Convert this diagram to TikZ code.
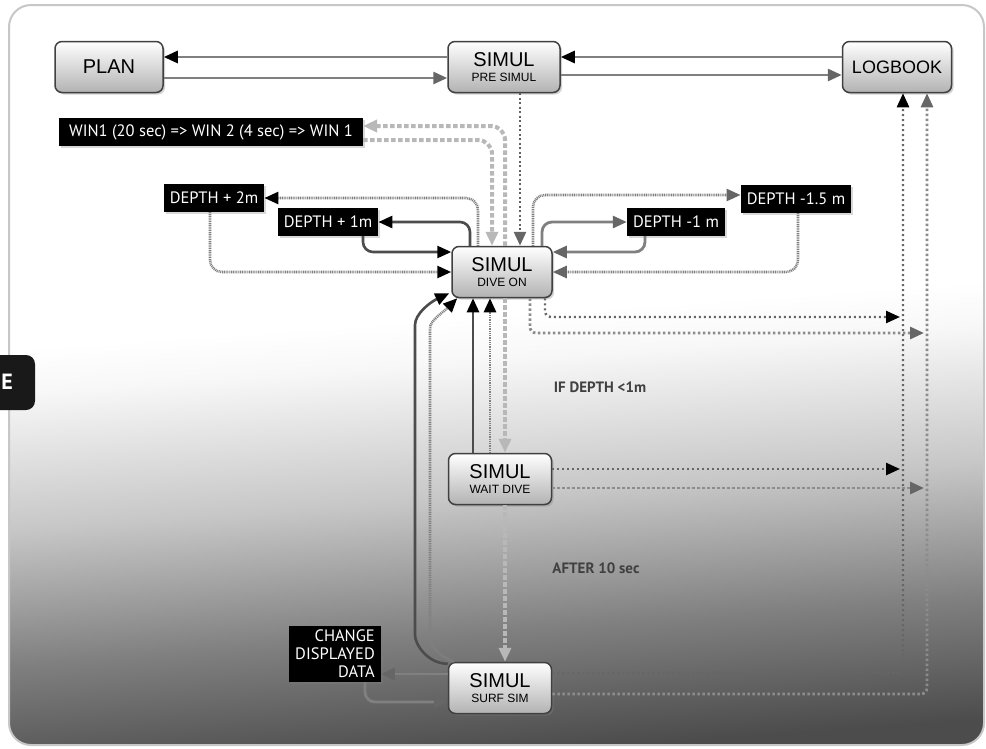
\documentclass[tikz,border=0pt]{standalone}
\usepackage{fontspec}
\setmainfont{Liberation Sans}
\newfontfamily\labelfont{PT Sans}
\usetikzlibrary{arrows.meta,shadows}

\newcommand*{\xlogA}{903}
\newcommand*{\xlogB}{927}
\newcommand*{\boxsub}[1]{{\fontsize{12}{12}\selectfont #1}}

\pgfdeclareverticalshading{bgshade}{100bp}{color(0bp)=(black!70); color(25bp)=(black!70); color(33bp)=(black!50); color(42bp)=(black!22); color(51bp)=(black!3); color(54bp)=(white); color(100bp)=(white)}

\begin{document}
\begin{tikzpicture}
[
	x=1pt, y=-1pt,
	simbox/.style={draw=black!75, line width=1.5pt, rounded corners=7pt, top color=white, bottom color=black!30,
		inner sep=0pt, minimum width=102pt, minimum height=51pt, align=center, font=\fontsize{20}{18}\selectfont,
		drop shadow={shadow xshift=2pt, shadow yshift=-2pt, opacity=0.35}},
	blackbox/.style={fill=black, text=white, inner xsep=6pt, inner ysep=4pt, minimum height=28pt,
		font=\labelfont\fontsize{16.5}{18}\selectfont, drop shadow={shadow xshift=2pt, shadow yshift=-2pt, opacity=0.3}},
	note/.style={text=black!75, font=\labelfont\bfseries\fontsize{15}{15}\selectfont},
	pipe/.style={draw=black!70, line width=2.6pt, rounded corners=10pt},
	graypipe/.style={draw=black!50, line width=2.8pt, rounded corners=10pt},
	dotpipe/.style={draw=black!50, line width=2.6pt, dash pattern=on 1pt off 0.8pt, rounded corners=12pt},
	dashpipe/.style={draw=black!28, line width=4pt, dash pattern=on 4.5pt off 2.5pt, rounded corners=14pt},
	dotdark/.style={draw=black!62, line width=2.6pt, dash pattern=on 2pt off 2.5pt},
	logdark/.style={draw=black!60, line width=2.4pt, dash pattern=on 2pt off 3pt, rounded corners=6pt},
	loglight/.style={draw=black!45, line width=2.8pt, dash pattern=on 2.5pt off 2.5pt, rounded corners=6pt},
	tipblack/.style={-{Triangle[length=14pt,width=12pt,color=black]}},
	tipgray/.style={-{Triangle[length=14pt,width=12pt,color=black!60]}},
	tiplight/.style={-{Triangle[length=14pt,width=12pt,color=black!28]}}
]

	\useasboundingbox (0,0) rectangle (986,748);

	% background
	\shadedraw[shading=bgshade, shading angle=4, draw=black!22, line width=2pt, rounded corners=22pt] (9,5) rectangle (984,745);

	% side tab
	\fill[black!90, rounded corners=9pt] (-30,355) rectangle (35,410);
	\node[font=\labelfont\bfseries\fontsize{22}{22}\selectfont, text=white] (tabE) at (7,382) {E};

	% boxes
	\node[simbox, minimum width=108pt] (plan) at (109,67) {PLAN};
	\node[simbox, minimum width=112pt] (pre) at (504,67) {SIMUL\\[-3pt]\boxsub{PRE SIMUL}};
	\node[simbox, minimum width=109pt, font=\fontsize{18}{18}\selectfont] (logbook) at (897,67) {LOGBOOK};
	\node[simbox, minimum width=100pt] (dive) at (502,272) {SIMUL\\[-3pt]\boxsub{DIVE ON}};
	\node[simbox, minimum width=103pt] (wait) at (500,479) {SIMUL\\[-3pt]\boxsub{WAIT DIVE}};
	\node[simbox, minimum width=103pt] (surf) at (500,688) {SIMUL\\[-3pt]\boxsub{SURF SIM}};

	% black labels
	\node[blackbox, inner xsep=10pt] (win) at (211,132) {WIN1 (20 sec) => WIN 2 (4 sec) => WIN 1};
	\node[blackbox] (dplustwo) at (214,198) {DEPTH + 2m};
	\node[blackbox] (dplusone) at (328,222) {DEPTH + 1m};
	\node[blackbox] (dminusone) at (676,222) {DEPTH -1 m};
	\node[blackbox] (dminushalf) at (796,199) {DEPTH -1.5 m};
	\node[blackbox, align=right] (change) at (335,654) {CHANGE\\DISPLAYED\\DATA};

	% conditions
	\node[note] (ifdepth) at (600,387) {IF DEPTH <1m};
	\node[note] (after) at (596,568) {AFTER 10 sec};

	% top row
	\draw[graypipe, tipblack] ([yshift=10pt]pre.west) -- ([yshift=10pt]plan.east);
	\draw[graypipe, tipgray] ([yshift=-11pt]plan.east) -- ([yshift=-11pt]pre.west);
	\draw[graypipe, tipblack] ([yshift=10pt]logbook.west) -- ([yshift=10pt]pre.east);
	\draw[graypipe, tipgray] ([yshift=-8pt]pre.east) -- ([yshift=-8pt]logbook.west);
	\draw[dotdark, tipgray] ([xshift=16pt]pre.south) -- ([xshift=16pt]pre.south |- dive.north);

	% win display
	\draw[dashpipe, tiplight] ([xshift=3pt]dive.north) |- ([yshift=6pt]win.east);
	\draw[dashpipe, tiplight] ([yshift=-8pt]win.east) -| ([xshift=-10pt]dive.north);

	% depth changes
	\draw[dotpipe, tipblack] ([xshift=-24pt]dive.north) |- (dplustwo.east);
	\draw[dotpipe, tipblack] ([xshift=-4pt]dplustwo.south) |- (dive.west);
	\draw[pipe, tipblack] ([xshift=-32pt]dive.north) |- (dplusone.east);
	\draw[pipe, tipblack] ([xshift=35pt]dplusone.south) |- ([yshift=20pt]dive.west);
	\draw[graypipe, tipgray] ([xshift=40pt]dive.north) |- (dminusone.west);
	\draw[graypipe, tipgray] ([xshift=-31pt]dminusone.south) |- ([yshift=20pt]dive.east);
	\draw[dotpipe, tipgray] ([xshift=31pt]dive.north) |- ([yshift=4pt]dminushalf.west);
	\draw[dotpipe, tipgray] ([xshift=2pt]dminushalf.south) |- (dive.east);

	% dive on -> wait dive -> surf sim
	\draw[dashpipe, tiplight] ([xshift=3pt]dive.south) -- ([xshift=3pt]dive.south |- wait.north);
	\draw[dashpipe, tiplight] ([xshift=5pt]wait.south) -- ([xshift=5pt]wait.south |- surf.north);

	% back to dive on
	\draw[pipe, tipblack] ([xshift=-27pt]wait.north) -- ([xshift=-27pt]wait.north |- dive.south);
	\draw[dotpipe, tipblack] ([xshift=-10pt]wait.north) -- ([xshift=-10pt]wait.north |- dive.south);
	\draw[pipe, tipblack] ([yshift=-2pt]surf.north west) to[out=180,in=-90] (415,625) -- (415,335)
		to[out=90,in=205] ([xshift=-2pt,yshift=5pt]dive.south west);
	\draw[dotpipe, tipblack] ([xshift=6pt]surf.north west) to[out=160,in=-90] (430,628) -- (430,340)
		to[out=90,in=225] ([xshift=6pt]dive.south west);

	% logbook
	\coordinate (diveA) at (\xlogA-3,317);
	\coordinate (diveB) at (\xlogB-3,333);
	\coordinate (waitA) at (\xlogA-3,469);
	\coordinate (waitB) at (\xlogB-3,488);
	\draw[logdark, tipblack] ([xshift=43pt]dive.south) |- (diveA);
	\draw[loglight, tipgray] ([xshift=28pt]dive.south) |- (diveB);
	\draw[logdark, tipblack] (wait.east |- waitA) -- (waitA);
	\draw[loglight, tipgray] (wait.east |- waitB) -- (waitB);
	\draw[logdark, tipblack] ([yshift=15pt]surf.east) -| ([xshift=6pt]logbook.south);
	\draw[loglight, tipgray] ([yshift=-6pt]surf.east) -| ([xshift=30pt]logbook.south);

	% change displayed data
	\draw[graypipe, tipgray] ([yshift=14pt]surf.west) -- ([yshift=14pt]surf.west -| change.east);
	\draw[graypipe, tipgray] ([xshift=30pt]change.south) |- ([yshift=-14pt]surf.west);

\end{tikzpicture}
\end{document}
